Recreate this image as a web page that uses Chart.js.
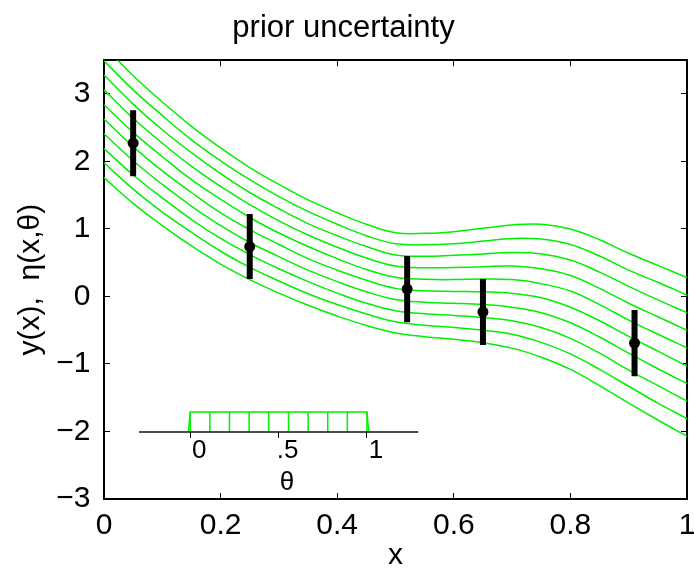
<!DOCTYPE html>
<html>

<head>
  <meta charset="utf-8">
  <title>prior uncertainty</title>
  <style>
    body {
      margin: 0;
      padding: 0;
      background-color: #FFF;
    }

    .wrap {
      position: relative;
      width: 694px;
      height: 576px;
    }

    #mainChart {
      position: absolute;
      left: 0;
      top: 0;
    }

    #thetaChart {
      position: absolute;
      left: 139px;
      top: 400px;
    }
  </style>
</head>

<body>
  <div class="wrap">
    <canvas id="mainChart" width="694" height="576"></canvas>
    <canvas id="thetaChart" width="296" height="98"></canvas>
  </div>

  <script src="https://cdn.jsdelivr.net/npm/chart.js"></script>

  <script>
    const xGrid = [0, 0.05, 0.1, 0.15, 0.2, 0.25, 0.3, 0.35, 0.4, 0.45, 0.5,
      0.55, 0.6, 0.65, 0.7, 0.75, 0.8, 0.85, 0.9, 0.95, 1.0];

    // eta(x, theta), one curve per theta value (lowest curve first)
    const eta0 = [1.76, 1.38, 1.05, 0.75, 0.48, 0.25, 0.05, -0.13, -0.29, -0.43, -0.54, -0.595, -0.635, -0.685, -0.765, -0.90, -1.08, -1.32, -1.58, -1.83, -2.07];
    const eta1 = [1.98, 1.59, 1.25, 0.95, 0.67, 0.43, 0.23, 0.04, -0.12, -0.26, -0.375, -0.425, -0.46, -0.50, -0.56, -0.68, -0.85, -1.08, -1.33, -1.58, -1.81];
    const eta2 = [2.19, 1.80, 1.46, 1.14, 0.86, 0.62, 0.41, 0.22, 0.05, -0.10, -0.21, -0.255, -0.28, -0.31, -0.36, -0.46, -0.62, -0.84, -1.09, -1.32, -1.55];
    const eta3 = [2.41, 2.01, 1.66, 1.34, 1.05, 0.80, 0.59, 0.39, 0.22, 0.07, -0.045, -0.085, -0.10, -0.12, -0.16, -0.24, -0.39, -0.60, -0.84, -1.07, -1.29];
    const eta4 = [2.63, 2.22, 1.86, 1.54, 1.24, 0.99, 0.77, 0.56, 0.39, 0.24, 0.12, 0.085, 0.074, 0.068, 0.046, -0.02, -0.16, -0.36, -0.59, -0.81, -1.03];
    const eta5 = [2.84, 2.43, 2.07, 1.73, 1.44, 1.17, 0.94, 0.74, 0.56, 0.40, 0.285, 0.255, 0.25, 0.26, 0.25, 0.19, 0.08, -0.12, -0.35, -0.56, -0.76];
    const eta6 = [3.06, 2.64, 2.27, 1.93, 1.63, 1.36, 1.12, 0.91, 0.73, 0.57, 0.45, 0.425, 0.43, 0.44, 0.45, 0.41, 0.31, 0.12, -0.10, -0.30, -0.50];
    const eta7 = [3.28, 2.85, 2.47, 2.13, 1.82, 1.54, 1.30, 1.08, 0.90, 0.74, 0.615, 0.595, 0.61, 0.63, 0.65, 0.63, 0.54, 0.36, 0.15, -0.05, -0.24];
    const eta8 = [3.49, 3.06, 2.68, 2.32, 2.01, 1.73, 1.48, 1.26, 1.07, 0.90, 0.78, 0.765, 0.78, 0.82, 0.86, 0.85, 0.77, 0.60, 0.39, 0.21, 0.02];
    const eta9 = [3.71, 3.27, 2.88, 2.52, 2.20, 1.91, 1.66, 1.43, 1.24, 1.07, 0.945, 0.935, 0.96, 1.01, 1.06, 1.07, 1.00, 0.84, 0.64, 0.46, 0.28];
    const etaCurves = [eta0, eta1, eta2, eta3, eta4, eta5, eta6, eta7, eta8, eta9];

    // field observations y(x) with their error bars
    const obsX = [0.05, 0.25, 0.52, 0.65, 0.91];
    const obsY = [2.27, 0.74, 0.11, -0.23, -0.69];
    const obsErr = [0.49, 0.48, 0.49, 0.49, 0.49];

    // axis ticks
    const xTicks = [0, 0.2, 0.4, 0.6, 0.8, 1];
    const yTicks = [-3, -2, -1, 0, 1, 2, 3];

    // prior on theta (inset)
    const thetaValues = [0, 0.111, 0.222, 0.333, 0.444, 0.556, 0.667, 0.778, 0.889, 1];
    const thetaOutlineX = [-0.01, 0, 1, 1.01];
    const thetaOutlineY = [0, 1, 1, 0];
    const thetaTicks = [0, 0.5, 1];
    const thetaTickLabels = ['0', '.5', '1'];
    const thetaAxisEnds = [-0.29, 1.29];

    const FONT = '"Liberation Sans", Arial, Helvetica, sans-serif';
    const GREEN = '#00f000';
    Chart.defaults.font.family = FONT;
    Chart.defaults.color = '#000';

    const setTicks = list => (s => { s.ticks = list.map(v => ({ value: v })); });

    // error bars: one segment per observation, broken by nulls
    const barPoints = [];
    obsX.forEach((x, i) => {
      barPoints.push({ x: x, y: obsY[i] - obsErr[i] });
      barPoints.push({ x: x, y: obsY[i] + obsErr[i] });
      barPoints.push({ x: x, y: null });
    });

    const curveSets = etaCurves.map(ys => ({
      data: xGrid.map((x, i) => ({ x: x, y: ys[i] })),
      borderColor: GREEN,
      borderWidth: 1.5,
      pointRadius: 0,
      tension: 0.4,
      fill: false
    }));

    const edgeAxis = (pos, list) => ({
      type: 'linear',
      position: pos,
      afterBuildTicks: setTicks(list),
      ticks: { display: false },
      grid: { drawOnChartArea: false, tickLength: -6, color: '#000', lineWidth: 1 },
      border: { display: true, color: '#000', width: 2 }
    });

    const xTop = edgeAxis('top', xTicks);
    xTop.min = 0; xTop.max = 1;
    xTop.afterFit = s => { s.height = 0; s.paddingLeft = 0; s.paddingRight = 0; };

    const yRight = edgeAxis('right', yTicks);
    yRight.min = -3; yRight.max = 3.5;
    yRight.afterFit = s => { s.width = 0; };

    new Chart(document.getElementById('mainChart'), {
      type: 'line',
      data: {
        datasets: [
          {
            data: obsX.map((x, i) => ({ x: x, y: obsY[i] })),
            showLine: false,
            pointRadius: 5.5,
            pointBackgroundColor: '#000',
            pointBorderWidth: 0
          },
          {
            data: barPoints,
            borderColor: '#000',
            borderWidth: 6,
            borderCapStyle: 'butt',
            pointRadius: 0,
            spanGaps: false
          },
          ...curveSets
        ]
      },
      options: {
        responsive: false,
        animation: false,
        devicePixelRatio: 1,
        events: [],
        layout: { padding: { left: 0, right: 7, top: 0, bottom: 0 } },
        plugins: {
          legend: { display: false },
          tooltip: { enabled: false },
          title: {
            display: true,
            text: 'prior uncertainty',
            color: '#000',
            font: { size: 31, weight: 'normal' },
            padding: { top: 10, bottom: 13 }
          }
        },
        scales: {
          x: {
            type: 'linear',
            position: 'bottom',
            min: 0,
            max: 1,
            afterBuildTicks: setTicks(xTicks),
            ticks: { font: { size: 30 }, padding: 15, maxRotation: 0, autoSkip: false, callback: v => String(v) },
            grid: { drawOnChartArea: false, tickLength: -6, color: '#000', lineWidth: 1 },
            border: { display: true, color: '#000', width: 2 },
            title: { display: true, text: 'x', font: { size: 30 }, padding: { top: 0, bottom: 2 } },
            afterFit: s => { s.height = 77; s.paddingLeft = 0; s.paddingRight = 0; }
          },
          xTop: xTop,
          y: {
            type: 'linear',
            position: 'left',
            min: -3,
            max: 3.5,
            afterBuildTicks: setTicks(yTicks),
            ticks: { font: { size: 30 }, padding: 19.5, callback: v => String(v).replace('-', '\u2212') },
            grid: { drawOnChartArea: false, tickLength: -6, color: '#000', lineWidth: 1 },
            border: { display: true, color: '#000', width: 2 },
            title: { display: true, text: 'y(x),  \u03B7(x,\u03B8)', font: { size: 30 }, padding: { top: 13, bottom: 0 } },
            afterFit: s => { s.width = 104; }
          },
          yRight: yRight
        }
      }
    });

    // inset: uniform prior on theta
    new Chart(document.getElementById('thetaChart'), {
      type: 'line',
      data: {
        datasets: [
          {
            data: thetaAxisEnds.map(t => ({ x: t, y: 0 })),
            borderColor: '#0a160a',
            borderWidth: 1.5,
            pointRadius: 0,
            clip: false
          },
          {
            data: thetaOutlineX.map((t, i) => ({ x: t, y: thetaOutlineY[i] })),
            borderColor: GREEN,
            borderWidth: 1.5,
            pointRadius: 0,
            tension: 0,
            clip: false
          },
          {
            data: thetaValues.flatMap(t => [{ x: t, y: 0 }, { x: t, y: 1 }, { x: t, y: null }]),
            borderColor: GREEN,
            borderWidth: 1.5,
            pointRadius: 0,
            spanGaps: false,
            clip: false
          }
        ]
      },
      options: {
        responsive: false,
        animation: false,
        devicePixelRatio: 1,
        events: [],
        layout: { padding: 0 },
        plugins: { legend: { display: false }, tooltip: { enabled: false } },
        scales: {
          x: {
            type: 'linear',
            min: -0.29,
            max: 1.385,
            afterBuildTicks: setTicks(thetaTicks),
            ticks: {
              font: { size: 26 },
              padding: -3,
              labelOffset: 9,
              maxRotation: 0,
              autoSkip: false,
              callback: (v, i) => thetaTickLabels[i]
            },
            grid: { drawOnChartArea: false, tickLength: 6, color: '#000', lineWidth: 1 },
            border: { display: false },
            title: { display: true, text: '\u03B8', font: { size: 26 }, padding: { top: 0, bottom: 0 } },
            afterFit: s => { s.height = 66; s.paddingLeft = 0; s.paddingRight = 0; }
          },
          y: { display: false, min: 0, max: 1.6 }
        }
      }
    });
  </script>
</body>

</html>
